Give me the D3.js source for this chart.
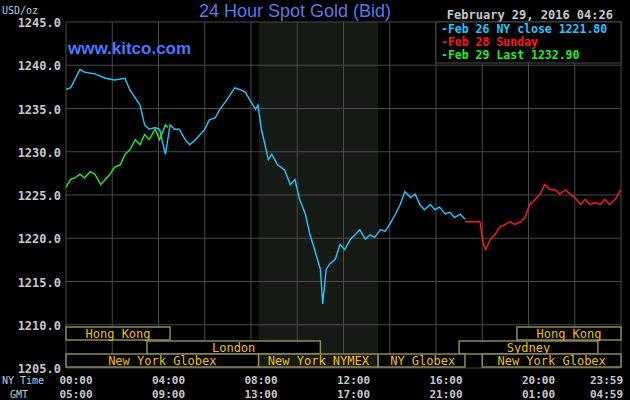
<!DOCTYPE html>
<html><head><meta charset="utf-8">
<script src="https://cdn.jsdelivr.net/npm/d3@7"></script>
<style>body{margin:0;background:#000}svg{display:block}</style>
</head><body>
<svg id="c" width="630" height="400"></svg>
<script>
// hours since 00:00 NY time, price
var feb26 = [[0,1237.2],[0.2,1237.4],[0.6,1239.5],[0.8,1239.2],[1.25,1239.0],[1.7,1238.5],[2.1,1238.3],[2.55,1238.5],[2.75,1237.2],[3.2,1235.4],[3.4,1233.1],[3.6,1232.6],[3.85,1232.8],[4.05,1232.6],[4.3,1229.7],[4.5,1233.1],[4.7,1232.6],[4.9,1232.6],[5.15,1231.4],[5.35,1230.8],[5.6,1231.4],[5.8,1232.0],[6.0,1232.6],[6.2,1233.7],[6.45,1233.9],[6.65,1234.9],[6.9,1235.8],[7.1,1236.6],[7.3,1237.4],[7.5,1237.2],[7.75,1236.9],[7.95,1236.0],[8.2,1234.9],[8.3,1235.4],[8.45,1232.6],[8.75,1229.1],[8.9,1229.7],[9.15,1228.5],[9.45,1227.9],[9.7,1226.2],[9.9,1226.8],[10.1,1224.5],[10.35,1222.8],[10.55,1220.4],[10.75,1218.7],[11.0,1216.4],[11.1,1212.4],[11.25,1216.4],[11.4,1217.0],[11.65,1217.6],[11.85,1219.3],[12.05,1218.7],[12.3,1219.9],[12.5,1220.4],[12.7,1221.0],[12.95,1219.9],[13.15,1220.4],[13.35,1220.1],[13.6,1221.0],[13.8,1220.8],[14.0,1221.6],[14.25,1222.8],[14.45,1223.9],[14.65,1225.4],[14.9,1224.7],[15.1,1225.1],[15.3,1223.9],[15.5,1223.3],[15.75,1223.9],[15.95,1223.3],[16.15,1223.6],[16.4,1222.8],[16.6,1223.0],[16.8,1222.4],[17.05,1222.8],[17.25,1222.2]];
var feb28 = [[17.25,1221.9],[17.9,1221.9],[18.05,1219.3],[18.15,1218.7],[18.35,1219.9],[18.55,1220.4],[18.75,1221.3],[19.0,1221.6],[19.2,1221.9],[19.4,1221.6],[19.65,1221.9],[19.85,1222.4],[20.05,1223.9],[20.3,1224.5],[20.5,1225.1],[20.7,1226.2],[20.95,1225.6],[21.15,1225.6],[21.35,1225.1],[21.6,1225.6],[21.8,1225.1],[22.0,1224.7],[22.25,1223.9],[22.45,1224.5],[22.65,1223.9],[22.9,1224.1],[23.1,1223.9],[23.3,1224.5],[23.5,1223.9],[23.75,1224.5],[23.98,1225.6]];
var feb29 = [[0,1225.9],[0.2,1226.8],[0.4,1227.0],[0.6,1227.4],[0.8,1227.0],[1.05,1227.7],[1.25,1227.4],[1.5,1226.2],[1.7,1226.8],[1.9,1227.4],[2.1,1228.2],[2.35,1228.5],[2.55,1229.7],[2.75,1230.2],[3.0,1231.4],[3.2,1230.8],[3.4,1232.0],[3.6,1231.4],[3.85,1232.6],[4.05,1231.4],[4.3,1233.1],[4.4,1232.8]];
var yTicks = [1205,1210,1215,1220,1225,1230,1235,1240,1245];
var nyLabels = ["00:00","04:00","08:00","12:00","16:00","20:00","23:59"];
var gmtLabels = ["05:00","09:00","13:00","17:00","21:00","01:00","04:59"];
var labelHours = [0,4,8,12,16,20,23.98];
var sessions = [
  {name:"Hong Kong",row:0,from:0,to:4.5,anchor:"middle"},
  {name:"Hong Kong",row:0,from:19.5,to:24,anchor:"middle"},
  {name:"London",row:1,from:3.5,to:11,anchor:"middle"},
  {name:"Sydney",row:1,from:17,to:23,anchor:"middle"},
  {name:"New York Globex",row:2,from:0,to:8.33,anchor:"middle"},
  {name:"New York NYMEX",row:2,from:8.33,to:13.5,anchor:"middle"},
  {name:"NY Globex",row:2,from:13.5,to:17.25,anchor:"start"},
  {name:"New York Globex",row:2,from:18,to:24,anchor:"middle"}
];
var legend = [{t:"Feb 26 NY close 1221.80",c:"#1ec8ff"},{t:"Feb 28 Sunday",c:"#ff1a1a"},{t:"Feb 29 Last 1232.90",c:"#22ee22"}];

var svg = d3.select("#c");
var x = d3.scaleLinear().domain([0,24]).range([66,621]);
var y = d3.scaleLinear().domain([1205,1245]).range([368,22]);
var mono = "'DejaVu Sans Mono', monospace";
var grid = "#4a4a4a";

svg.append("rect").attr("x",x(8.33)).attr("y",22).attr("width",x(13.5)-x(8.33)).attr("height",346).attr("fill","#161a15");

svg.append("g").selectAll("line").data(d3.range(0,25,2)).join("line")
  .attr("x1",d=>x(d)).attr("x2",d=>x(d)).attr("y1",22).attr("y2",368).attr("stroke",grid);
svg.append("g").selectAll("line").data(yTicks).join("line")
  .attr("x1",66).attr("x2",621).attr("y1",d=>y(d)).attr("y2",d=>y(d)).attr("stroke",grid);

svg.append("g").selectAll("text").data(yTicks).join("text")
  .attr("x",61).attr("y",d=>y(d)+5).attr("text-anchor","end").attr("fill","#c8c8c8")
  .attr("font-family",mono).attr("font-size",12).attr("font-weight","bold").text(d=>d.toFixed(1));
svg.append("text").attr("x",2).attr("y",14).attr("fill","#c8c8c8").attr("font-family",mono).attr("font-size",10).text("USD/oz");

// sessions
var rowY = [327,341,354], rowH = 13;
var sg = svg.append("g");
sessions.forEach(function(s){
  sg.append("rect").attr("x",x(s.from)).attr("y",rowY[s.row]).attr("width",x(s.to)-x(s.from)).attr("height",rowH)
    .attr("fill",s.name=="New York NYMEX"?"#161a15":"#000").attr("stroke","#8c8a5a").attr("stroke-width",1.5);
  sg.append("text").attr("x",s.anchor=="start"?x(s.from)+12:(x(s.from)+x(s.to))/2).attr("y",rowY[s.row]+11)
    .attr("text-anchor",s.anchor).attr("fill","#f0c000").attr("font-family",mono).attr("font-size",12).text(s.name);
});

var line = d3.line().x(d=>x(d[0])).y(d=>y(d[1]));
[[feb26,"#1ec8ff"],[feb28,"#ff1a1a"],[feb29,"#22ee22"]].forEach(function(p){
  svg.append("path").datum(p[0]).attr("d",line).attr("fill","none").attr("stroke",p[1]).attr("stroke-width",1.4);
});

// time axis
svg.append("g").selectAll("text").data(labelHours).join("text")
  .attr("x",(d,i)=>i==6?x(d)-14:x(d)+10).attr("y",384).attr("text-anchor","middle").attr("fill","#c8c8c8")
  .attr("font-family",mono).attr("font-size",11).attr("font-weight","bold").text((d,i)=>nyLabels[i]);
svg.append("g").selectAll("text").data(labelHours).join("text")
  .attr("x",(d,i)=>i==6?x(d)-14:x(d)+10).attr("y",398).attr("text-anchor","middle").attr("fill","#c8c8c8")
  .attr("font-family",mono).attr("font-size",11).attr("font-weight","bold").text((d,i)=>gmtLabels[i]);
svg.append("text").attr("x",2).attr("y",384).attr("fill","#c8c8c8").attr("font-family",mono).attr("font-size",10).text("NY Time");
svg.append("text").attr("x",10).attr("y",398).attr("fill","#c8c8c8").attr("font-family",mono).attr("font-size",10).text("GMT");

// title
svg.append("text").attr("x",295).attr("y",17).attr("text-anchor","middle").attr("fill","#5a78e6")
  .attr("font-family","'Liberation Sans', Arial, sans-serif").attr("font-size",18).text("24 Hour Spot Gold (Bid)");
svg.append("text").attr("x",68).attr("y",54).attr("fill","#4a78ff").attr("font-family","'Liberation Sans', Arial, sans-serif")
  .attr("font-size",17).attr("font-weight","bold").text("www.kitco.com");
svg.append("text").attr("x",613).attr("y",19).attr("text-anchor","end").attr("fill","#c8c8c8")
  .attr("font-family",mono).attr("font-size",12).attr("font-weight","bold").text("February 29, 2016 04:26");

// legend
svg.append("rect").attr("x",436).attr("y",22).attr("width",185).attr("height",41).attr("fill","#000").attr("stroke",grid);
svg.append("g").selectAll("text").data(legend).join("text")
  .attr("x",441).attr("y",(d,i)=>33+i*13).attr("fill",d=>d.c).attr("font-family",mono).attr("font-size",11.5).attr("font-weight","bold")
  .text(d=>"-"+d.t);
</script>
</body></html>
